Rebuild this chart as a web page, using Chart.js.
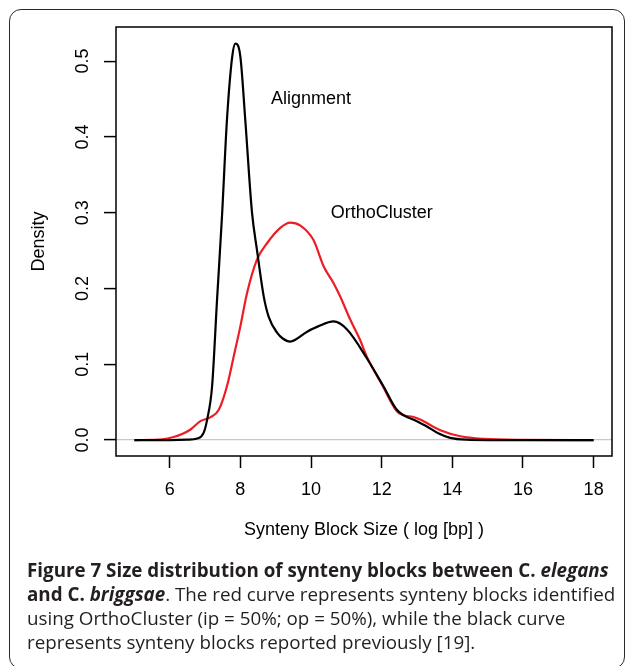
<!DOCTYPE html>
<html>
<head>
<meta charset="utf-8">
<script src="https://cdn.jsdelivr.net/npm/chart.js@4.4.1/dist/chart.umd.min.js"></script>
<style>
  html, body { margin: 0; padding: 0; background: #fff; }
  body { width: 627px; height: 666px; position: relative; overflow: hidden; }
  #frame { position: absolute; left: 9px; top: 9px; width: 616px; height: 660px;
           border: 1.5px solid #2a2a2a; border-radius: 12px; box-sizing: border-box; }
  #wrap { position: absolute; left: 0; top: 0; width: 627px; height: 560px; }
  #caption { position: absolute; left: 27px; top: 558px; width: 600px;
             font-family: "Open Sans", "Noto Sans", sans-serif; font-size: 18.8px;
             line-height: 24px; color: #231f20; white-space: nowrap; }
  #caption b { font-weight: 700; }
</style>
</head>
<body>
<div id="frame"></div>
<div id="wrap"><canvas id="c"></canvas></div>
<div id="caption">
  <div><b>Figure 7 Size distribution of synteny blocks between C. <i>elegans</i></b></div>
  <div><b>and C. <i>briggsae</i></b>. The red curve represents synteny blocks identified</div>
  <div>using OrthoCluster (ip = 50%; op = 50%), while the black curve</div>
  <div>represents synteny blocks reported previously [19].</div>
</div>
<script>
// ---- data ----
const alignX = [5.0, 6.0, 6.5, 6.78, 6.96, 7.06, 7.2, 7.34, 7.48, 7.62, 7.77, 7.86, 8.0, 8.14, 8.33, 8.47, 8.66, 8.8, 9.05, 9.2, 9.41, 9.89, 10.2, 10.64, 11.02, 11.58, 12.05, 12.43, 13.0, 13.28, 13.6, 13.94, 14.4, 15.0, 16.0, 18.0];
const alignY = [0, 0, 0.0005, 0.002, 0.0095, 0.027, 0.071, 0.185, 0.295, 0.422, 0.506, 0.523, 0.506, 0.422, 0.300, 0.251, 0.190, 0.163, 0.141, 0.134, 0.130, 0.143, 0.150, 0.1565, 0.146, 0.108, 0.071, 0.040, 0.0248, 0.018, 0.009, 0.003, 0.0005, 0, 0, 0];
const orthoX = [5.0, 5.8, 6.11, 6.35, 6.59, 6.87, 7.15, 7.39, 7.62, 7.81, 8.0, 8.19, 8.47, 8.76, 9.13, 9.41, 9.7, 10.07, 10.36, 10.64, 10.83, 11.11, 11.39, 11.58, 12.0, 12.43, 12.6, 12.9, 13.09, 13.66, 14.23, 14.88, 16.0, 18.0];
const orthoY = [0, 0.001, 0.004, 0.008, 0.014, 0.025, 0.030, 0.040, 0.071, 0.110, 0.150, 0.194, 0.238, 0.260, 0.280, 0.287, 0.283, 0.264, 0.229, 0.207, 0.189, 0.159, 0.132, 0.110, 0.074, 0.038, 0.033, 0.0305, 0.027, 0.013, 0.005, 0.0016, 0.0003, 0];
const xTicks = [6, 8, 10, 12, 14, 16, 18];
const yTicks = [0, 0.1, 0.2, 0.3, 0.4, 0.5];
const curveLabels = ["Alignment", "OrthoCluster"];
const curveLabelX = [10, 12];
const curveLabelY = [0.45, 0.30];
const xTitle = "Synteny Block Size ( log [bp] )";
const yTitle = "Density";

const FONT = "'Liberation Sans', Arial, Helvetica, sans-serif";
const pts = (xs, ys) => xs.map((x, i) => ({ x: x, y: ys[i] }));

const frameBox = {
  id: 'frameBox',
  afterDatasetsDraw(chart) {
    const { ctx, chartArea: a, scales } = chart;
    ctx.save();
    ctx.strokeStyle = '#000';
    ctx.lineWidth = 1.5;
    ctx.strokeRect(a.left, a.top, a.right - a.left, a.bottom - a.top);
    ctx.fillStyle = '#000';
    ctx.font = '18px ' + FONT;
    ctx.textAlign = 'center';
    ctx.textBaseline = 'middle';
    curveLabels.forEach((t, i) => {
      ctx.fillText(t, scales.x.getPixelForValue(curveLabelX[i]), scales.y.getPixelForValue(curveLabelY[i]));
    });
    ctx.restore();
  }
};

new Chart(document.getElementById('c'), {
  type: 'line',
  data: {
    datasets: [
      { label: 'Alignment', data: pts(alignX, alignY), borderColor: '#000', borderWidth: 2.2,
        pointRadius: 0, cubicInterpolationMode: 'monotone', fill: false },
      { label: 'OrthoCluster', data: pts(orthoX, orthoY), borderColor: '#ee1c24', borderWidth: 2.2,
        pointRadius: 0, cubicInterpolationMode: 'monotone', fill: false }
    ]
  },
  options: {
    responsive: true,
    maintainAspectRatio: false,
    animation: false,
    devicePixelRatio: 1,
    layout: { padding: { left: 0, right: 15, top: 27, bottom: 4 } },
    plugins: { legend: { display: false }, tooltip: { enabled: false } },
    scales: {
      x: {
        type: 'linear', min: 4.48, max: 18.52,
        afterBuildTicks: s => { s.ticks = xTicks.map(v => ({ value: v })); },
        afterFit: s => { s.height = 100; },
        border: { display: false },
        grid: { drawOnChartArea: false, drawTicks: true, tickLength: 12, tickColor: '#000', tickWidth: 1.5 },
        ticks: { color: '#000', font: { size: 18, family: FONT }, padding: 11, autoSkip: false,
                 maxRotation: 0, minRotation: 0, callback: v => String(v) },
        title: { display: true, text: xTitle, color: '#000', font: { size: 18, family: FONT },
                 padding: { top: 0, bottom: 15 } }
      },
      y: {
        type: 'linear', min: -0.021, max: 0.545,
        afterBuildTicks: s => { s.ticks = yTicks.map(v => ({ value: v })); },
        afterFit: s => { s.width = 116; },
        border: { display: false },
        grid: { drawOnChartArea: true, drawTicks: true, tickLength: 12, tickColor: '#000', tickWidth: 1.5,
                lineWidth: 1.2,
                color: c => (c.tick && c.tick.value === 0) ? '#c8c8c8' : 'rgba(0,0,0,0)' },
        ticks: { color: '#000', font: { size: 18, family: FONT }, padding: 8.5, autoSkip: false,
                 minRotation: 90, maxRotation: 90, crossAlign: 'center',
                 callback: v => Number(v).toFixed(1) },
        title: { display: true, text: yTitle, color: '#000', font: { size: 18, family: FONT },
                 padding: { top: 28, bottom: 0 } }
      }
    }
  },
  plugins: [frameBox]
});
</script>
</body>
</html>
